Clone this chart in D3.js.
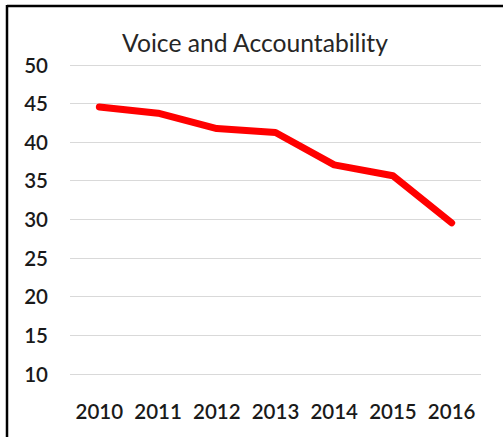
<!DOCTYPE html>
<html>
<head>
<meta charset="utf-8">
<script src="https://cdn.jsdelivr.net/npm/d3@7"></script>
<style>
  html, body { margin: 0; padding: 0; background: #ffffff; }
  svg { display: block; }
</style>
</head>
<body>
<svg id="chart" width="503" height="437"></svg>
<script>
// Voice and Accountability score by year
const years = ["2010", "2011", "2012", "2013", "2014", "2015", "2016"];
const scores = [44.5, 43.7, 41.7, 41.2, 37.0, 35.6, 29.5];
const yTicks = [10, 15, 20, 25, 30, 35, 40, 45, 50];
const titleText = "Voice and Accountability";

const W = 503, H = 437;
const plot = { left: 70, right: 481, top: 64.5, bottom: 373.5 };

const svg = d3.select("#chart");

// frame: heavy rule along the top and left edge
svg.append("rect").attr("width", W).attr("height", H).attr("fill", "#ffffff");
svg.append("line")
  .attr("x1", 7).attr("x2", W).attr("y1", 6).attr("y2", 6)
  .attr("stroke", "#000").attr("stroke-width", 2.5);
svg.append("line")
  .attr("x1", 7).attr("x2", 7).attr("y1", 5).attr("y2", H)
  .attr("stroke", "#000").attr("stroke-width", 2.5);

const x = d3.scaleBand().domain(years).range([plot.left, plot.right]);
const y = d3.scaleLinear().domain([10, 50]).range([plot.bottom, plot.top]);

// horizontal gridlines
svg.append("g")
  .selectAll("line")
  .data(yTicks)
  .join("line")
  .attr("x1", plot.left).attr("x2", plot.right)
  .attr("y1", d => Math.round(y(d)) + 0.5)
  .attr("y2", d => Math.round(y(d)) + 0.5)
  .attr("stroke", "#d9d9d9").attr("stroke-width", 1);

// y axis labels
const yAxis = d3.axisLeft(y).tickValues(yTicks).tickSize(0).tickPadding(0);
const gy = svg.append("g").attr("transform", "translate(48,1)").call(yAxis);
gy.select(".domain").remove();
gy.selectAll("text")
  .attr("font-family", "Lato, 'Open Sans', sans-serif")
  .attr("font-size", 20.5)
  .attr("font-weight", 600)
  .attr("fill", "#1a1a1a");

// x axis labels
const xAxis = d3.axisBottom(x).tickSize(0).tickPadding(0);
const gx = svg.append("g").attr("transform", "translate(0,404)").call(xAxis);
gx.select(".domain").remove();
gx.selectAll("text")
  .attr("font-family", "Lato, 'Open Sans', sans-serif")
  .attr("font-size", 20.5)
  .attr("font-weight", 600)
  .attr("fill", "#1a1a1a");

// series line
const line = d3.line()
  .x((d, i) => x(years[i]) + x.bandwidth() / 2)
  .y(d => y(d));

svg.append("path")
  .datum(scores)
  .attr("d", line)
  .attr("fill", "none")
  .attr("stroke", "#ff0000")
  .attr("stroke-width", 7)
  .attr("stroke-linecap", "round")
  .attr("stroke-linejoin", "round");

// title, sized to span its slot
const title = svg.append("text")
  .attr("x", 255).attr("y", 52)
  .attr("text-anchor", "middle")
  .attr("font-family", "Lato, 'Open Sans', sans-serif")
  .attr("font-size", 22)
  .attr("fill", "#262626")
  .text(titleText);
const tw = title.node().getComputedTextLength();
title.attr("font-size", 22 * 266 / tw);
</script>
</body>
</html>
